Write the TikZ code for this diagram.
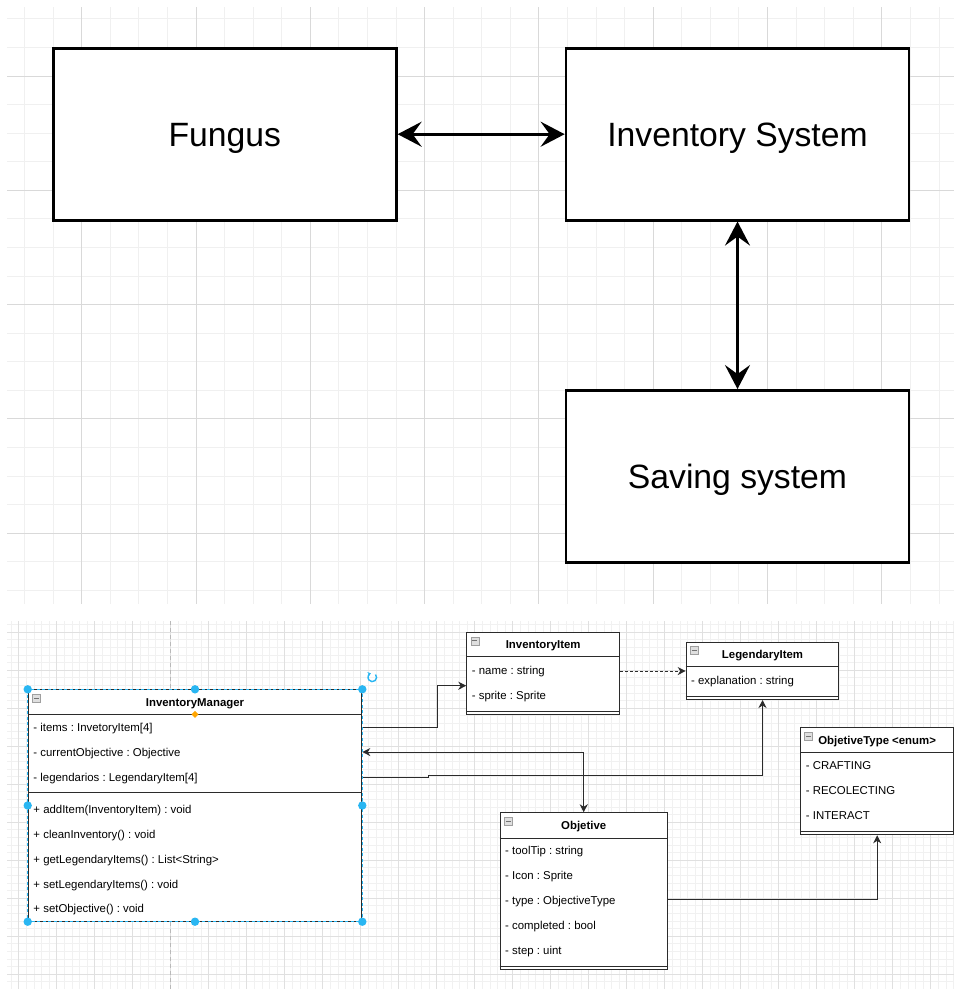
\documentclass[tikz,border=0pt]{standalone}
\usepackage{fontspec}
\setmainfont{Liberation Sans}
\frenchspacing
\usetikzlibrary{arrows.meta,calc}
\definecolor{gridminor}{HTML}{F0F0F0}
\definecolor{gridmajor}{HTML}{D9D9D9}
\definecolor{bgminor}{HTML}{F1F1F1}
\definecolor{bgmajor}{HTML}{E0E0E0}
\definecolor{selblue}{HTML}{29B6F2}
\definecolor{umlline}{HTML}{2B2B2B}
\definecolor{handleorange}{HTML}{FFA500}
\begin{document}
\begin{tikzpicture}[x=1pt,y=-1pt,
  bigbox/.style={draw=black, line width=2.7pt, fill=white, inner sep=0pt,
    minimum width=343pt, minimum height=172pt,
    font=\fontsize{33.7}{40}\selectfont, text height=24.1pt, text depth=0pt},
  bigarrow/.style={line width=2.7pt,
    {Stealth[length=24pt,width=25pt,inset=9pt]}-{Stealth[length=24pt,width=25pt,inset=9pt]}},
  umlclass/.style={draw=umlline, line width=1pt, fill=white, inner sep=0pt, anchor=north west},
  ttl/.style={inner sep=0pt, font=\fontsize{11.4}{13.7}\selectfont\bfseries, text height=8.2pt, text depth=0pt},
  attr/.style={inner sep=0pt, anchor=west, font=\fontsize{11.4}{13.7}\selectfont, text height=8.2pt, text depth=0pt},
  divline/.style={draw=umlline, line width=1pt},
  umlarrow/.style={draw=umlline, line width=1pt, -{Stealth[length=8pt,width=8pt,inset=2.5pt]}},
  umlboth/.style={draw=umlline, line width=1pt, {Stealth[length=8pt,width=8pt,inset=2.5pt]}-{Stealth[length=8pt,width=8pt,inset=2.5pt]}},
  collapseicon/.pic={
    \filldraw[fill=gray!25, draw=gray!75, line width=0.6pt] (-4,-4) rectangle (4,4);
    \draw[gray!90!black, line width=0.9pt] (-2.5,0) -- (2.5,0);
  }
]
\useasboundingbox (0,0) rectangle (954,989);
\fill[white] (0,0) rectangle (954,989);

% ---------- top grid ----------
\foreach \k in {-2,...,30} \draw[gridminor, line width=0.9pt] ({81.7+28.575*\k},7) -- ({81.7+28.575*\k},604);
\foreach \k in {-2,...,18} \draw[gridminor, line width=0.9pt] (7,{76+28.575*\k}) -- (954,{76+28.575*\k});
\foreach \k in {0,...,7} \draw[gridmajor, line width=1pt] ({81.7+114.3*\k},7) -- ({81.7+114.3*\k},604);
\foreach \k in {0,...,4} \draw[gridmajor, line width=1pt] (7,{76+114.3*\k}) -- (954,{76+114.3*\k});

% ---------- bottom grid ----------
\foreach \k in {-1,...,123} \draw[bgminor, line width=0.6pt] ({18.7+7.6*\k},621) -- ({18.7+7.6*\k},989);
\foreach \k in {-1,...,46} \draw[bgminor, line width=0.6pt] (7,{632+7.6*\k}) -- (954,{632+7.6*\k});
\foreach \k in {0,...,24} \draw[bgmajor, line width=0.8pt] ({18.7+38*\k},621) -- ({18.7+38*\k},989);
\foreach \k in {0,...,9} \draw[bgmajor, line width=0.8pt] (7,{632+38*\k}) -- (954,{632+38*\k});
\draw[gray!55, line width=0.8pt, dash pattern=on 4pt off 3pt] (170.7,621) -- (170.7,989);

% ---------- top blocks ----------
\node[bigbox] (fungus) at (224.8,134.2) {Fungus};
\node[bigbox] (invsys) at (737.5,134.2) {Inventory System};
\node[bigbox] (saving) at (737.5,476.4) {Saving system};
\draw[bigarrow] (fungus.east) -- (invsys.west);
\draw[bigarrow] (invsys.south) -- (saving.north);

% ---------- InventoryManager ----------
\node[umlclass, minimum width=333.6pt, minimum height=231.4pt] (im) at (27.7,689.3) {};
\draw[divline] ($(im.north west)+(0,25)$) -- ($(im.north east)+(0,25)$);
\draw[divline] ($(im.north west)+(0,103.4)$) -- ($(im.north east)+(0,103.4)$);
\pic at ($(im.north west)+(8.6,9)$) {collapseicon};
\node[ttl] (im-t) at ($(im.north)+(0,12.7)$) {InventoryManager};
\node[attr] (im-a1) at (33.3,727) {- items : InvetoryItem[4]};
\node[attr] (im-a2) at (33.3,752) {- currentObjective : Objective};
\node[attr] (im-a3) at (33.3,777) {- legendarios : LegendaryItem[4]};
\node[attr] (im-m1) at (33.3,809.3) {+ addItem(InventoryItem) : void};
\node[attr] (im-m2) at (33.3,834) {+ cleanInventory() : void};
\node[attr] (im-m3) at (33.3,859) {+ getLegendaryItems() : List\textless String\textgreater};
\node[attr] (im-m4) at (33.3,884) {+ setLegendaryItems() : void};
\node[attr] (im-m5) at (33.3,908.7) {+ setObjective() : void};

% ---------- InventoryItem ----------
\node[umlclass, minimum width=152.7pt, minimum height=81.7pt] (ii) at (466.3,632.3) {};
\draw[divline] ($(ii.north west)+(0,24.4)$) -- ($(ii.north east)+(0,24.4)$);
\draw[divline] ($(ii.south west)+(0,-4)$) -- ($(ii.south east)+(0,-4)$);
\pic at ($(ii.north west)+(8.6,8.6)$) {collapseicon};
\node[ttl] (ii-t) at ($(ii.north)+(0,12.5)$) {InventoryItem};
\node[attr] (ii-a1) at (471.7,670) {- name : string};
\node[attr] (ii-a2) at (471.7,695) {- sprite : Sprite};

% ---------- LegendaryItem ----------
\node[umlclass, minimum width=152.6pt, minimum height=57.3pt] (li) at (685.7,641.7) {};
\draw[divline] ($(li.north west)+(0,24.3)$) -- ($(li.north east)+(0,24.3)$);
\draw[divline] ($(li.south west)+(0,-3.6)$) -- ($(li.south east)+(0,-3.6)$);
\pic at ($(li.north west)+(8.6,8.6)$) {collapseicon};
\node[ttl] (li-t) at ($(li.north)+(0,12.4)$) {LegendaryItem};
\node[attr] (li-a1) at (691,680) {- explanation : string};

% ---------- ObjetiveType ----------
\node[umlclass, minimum width=152.7pt, minimum height=107pt] (ot) at (800.3,727.3) {};
\draw[divline] ($(ot.north west)+(0,25.4)$) -- ($(ot.north east)+(0,25.4)$);
\draw[divline] ($(ot.south west)+(0,-3.6)$) -- ($(ot.south east)+(0,-3.6)$);
\pic at ($(ot.north west)+(8.4,9)$) {collapseicon};
\node[ttl] (ot-t) at ($(ot.north)+(0,13)$) {ObjetiveType \textless enum\textgreater};
\node[attr] (ot-a1) at (805.7,765.3) {- CRAFTING};
\node[attr] (ot-a2) at (805.7,790) {- RECOLECTING};
\node[attr] (ot-a3) at (805.7,815) {- INTERACT};

% ---------- Objetive ----------
\node[umlclass, minimum width=167pt, minimum height=157pt] (obj) at (499.7,812.3) {};
\draw[divline] ($(obj.north west)+(0,25.7)$) -- ($(obj.north east)+(0,25.7)$);
\draw[divline] ($(obj.south west)+(0,-4)$) -- ($(obj.south east)+(0,-4)$);
\pic at ($(obj.north west)+(8.6,9)$) {collapseicon};
\node[ttl] (obj-t) at ($(obj.north)+(0,13.3)$) {Objetive};
\node[attr] (obj-a1) at (505,850.7) {- toolTip : string};
\node[attr] (obj-a2) at (505,875.3) {- Icon : Sprite};
\node[attr] (obj-a3) at (505,900.3) {- type : ObjectiveType};
\node[attr] (obj-a4) at (505,925) {- completed : bool};
\node[attr] (obj-a5) at (505,950) {- step : uint};

% ---------- UML connectors ----------
\coordinate (c1) at (437.7,685.7);
\draw[umlarrow] (im.east |- im-a1) -| (c1) -- (ii.west |- c1);
\draw[umlarrow, dash pattern=on 2.5pt off 2.5pt] (ii.east |- 0,671) -- (li.west |- 0,671);
\draw[umlboth] (obj.north) |- (im.east |- im-a2);
\coordinate (c2) at (428.3,777);
\coordinate (c3) at (428.3,775.3);
\draw[umlarrow] (im.east |- im-a3) -- (c2) -- (c3) -| (li.south);
\draw[umlarrow] (obj.east |- 0,899.5) -| (ot.south);

% ---------- selection overlay ----------
\draw[selblue, line width=1pt, dash pattern=on 3pt off 2.5pt] (im.north west) rectangle (im.south east);
\foreach \p in {north west,north,north east,west,east,south west,south,south east}
  \fill[selblue] (im.\p) circle (4.2pt);
\fill[handleorange] ($(im.north)+(0,25)$) +(-3.5,0) -- +(0,-3.5) -- +(3.5,0) -- +(0,3.5) -- cycle;
\draw[selblue, line width=1.4pt, -{Stealth[length=3pt,width=4.5pt]}]
  (372.3,677.3) ++(-40:4.3) arc[start angle=-40, end angle=250, radius=4.3];
\end{tikzpicture}
\end{document}
